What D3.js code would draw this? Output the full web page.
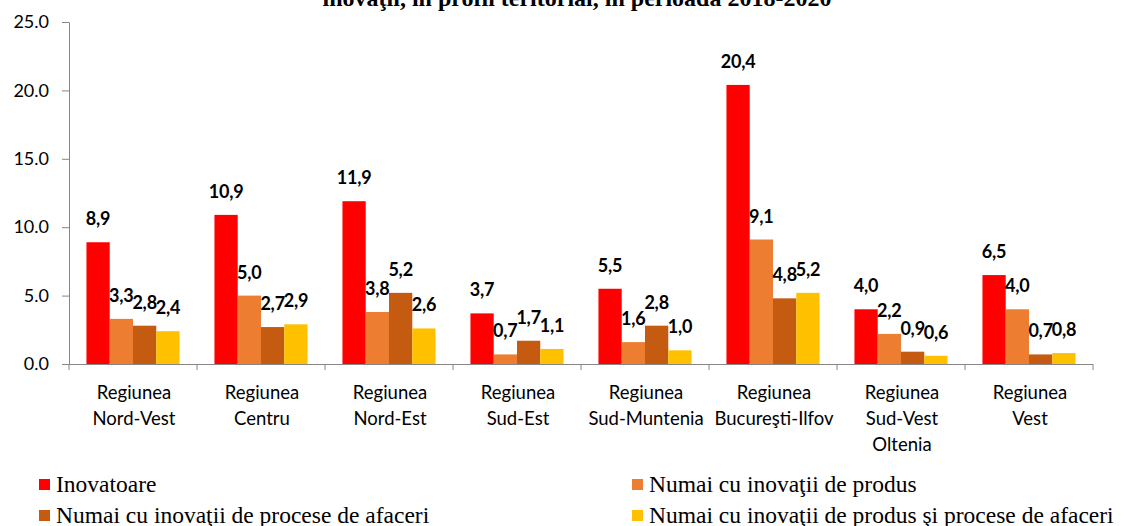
<!DOCTYPE html>
<html>
<head>
<meta charset="utf-8">
<script src="https://cdn.jsdelivr.net/npm/d3@7"></script>
<style>
  html, body { margin: 0; padding: 0; background: #fff; }
  svg { display: block; }
</style>
</head>
<body>
<svg id="chart" width="1125" height="526"></svg>
<script>
// ---- data ----
const titleText = "inovaţii, în profil teritorial, în perioada 2018-2020";
const categories = [
  ["Regiunea", "Nord-Vest"],
  ["Regiunea", "Centru"],
  ["Regiunea", "Nord-Est"],
  ["Regiunea", "Sud-Est"],
  ["Regiunea", "Sud-Muntenia"],
  ["Regiunea", "Bucureşti-Ilfov"],
  ["Regiunea", "Sud-Vest", "Oltenia"],
  ["Regiunea", "Vest"]
];
const seriesNames = [
  "Inovatoare",
  "Numai cu inovaţii de produs",
  "Numai cu inovaţii de procese de afaceri",
  "Numai cu inovaţii de produs şi procese de afaceri"
];
const inovatoare     = [8.9, 10.9, 11.9, 3.7, 5.5, 20.4, 4.0, 6.5];
const produs         = [3.3, 5.0, 3.8, 0.7, 1.6, 9.1, 2.2, 4.0];
const procese        = [2.8, 2.7, 5.2, 1.7, 2.8, 4.8, 0.9, 0.7];
const produsProcese  = [2.4, 2.9, 2.6, 1.1, 1.0, 5.2, 0.6, 0.8];
const yTicks = [0, 5, 10, 15, 20, 25];
const colors = ["#FF0000", "#ED7D31", "#C55A11", "#FFC000"];

const seriesValues = [inovatoare, produs, procese, produsProcese];

// ---- layout ----
const svg = d3.select("#chart");
const mLeft = 69, mRight = 1093, mTop = 22, mBottom = 364;
const numFont = "Lato, 'Open Sans', sans-serif";
const serif = "'Liberation Serif', 'DejaVu Serif', serif";

const catKeys = categories.map((c, i) => "c" + i);
const x = d3.scaleBand().domain(catKeys).range([mLeft, mRight]).paddingInner(0).paddingOuter(0);
const xs = d3.scaleBand().domain(d3.range(seriesNames.length)).range([0, x.bandwidth()])
  .paddingInner(0).paddingOuter(0.75);
const y = d3.scaleLinear().domain([0, 25]).range([mBottom, mTop]);

// title (only its lower line is visible in the frame)
svg.append("text")
  .attr("x", 577).attr("y", 6)
  .attr("text-anchor", "middle")
  .attr("font-family", serif)
  .attr("font-weight", "bold")
  .attr("font-size", 24)
  .attr("fill", "#000")
  .text(titleText);

// bars
const data = [];
seriesValues.forEach((vals, s) => vals.forEach((v, i) => data.push({s, i, v})));

svg.append("g").selectAll("rect").data(data).join("rect")
  .attr("x", d => x(catKeys[d.i]) + xs(d.s))
  .attr("y", d => y(d.v))
  .attr("width", xs.bandwidth())
  .attr("height", d => y(0) - y(d.v))
  .attr("fill", d => colors[d.s]);

// y axis
const yAxis = svg.append("g").attr("transform", `translate(${mLeft},0)`)
  .call(d3.axisLeft(y).tickValues(yTicks).tickFormat(d3.format(".1f")).tickSize(7).tickSizeOuter(0));
yAxis.select(".domain").attr("stroke", "#868686");
yAxis.selectAll(".tick line").attr("stroke", "#868686");
yAxis.selectAll(".tick text")
  .attr("x", -20)
  .attr("font-family", numFont)
  .attr("font-size", 18)
  .attr("fill", "#000");

// x axis
const xAxis = svg.append("g").attr("transform", `translate(0,${mBottom})`)
  .call(d3.axisBottom(x).tickSize(0).tickFormat(""));
xAxis.select(".domain").attr("stroke", "#868686").attr("d", `M${mLeft},0.5H${mRight}`);
const bounds = catKeys.map(k => x(k)).concat([mRight]);
xAxis.selectAll(".bound").data(bounds).join("line")
  .attr("class", "bound")
  .attr("x1", d => d).attr("x2", d => d)
  .attr("y1", 0).attr("y2", 6)
  .attr("stroke", "#868686");

// category labels
categories.forEach((lines, i) => {
  const t = svg.append("text")
    .attr("text-anchor", "middle")
    .attr("font-family", numFont)
    .attr("font-size", 18.5)
    .attr("fill", "#000");
  lines.forEach((ln, j) => {
    t.append("tspan")
      .attr("x", x(catKeys[i]) + x.bandwidth() / 2 + 1)
      .attr("y", 399 + j * 26)
      .text(ln);
  });
});

// value labels
const fmt = v => d3.format(".1f")(v).replace(".", ",");
svg.append("g").selectAll("text").data(data).join("text")
  .attr("x", d => x(catKeys[d.i]) + xs(d.s) + xs.bandwidth() / 2)
  .attr("y", d => y(d.v) - 17)
  .attr("text-anchor", "middle")
  .attr("font-family", numFont)
  .attr("font-weight", "bold")
  .attr("font-size", 18)
  .attr("letter-spacing", -0.2)
  .attr("fill", "#000")
  .text(d => fmt(d.v));

// legend
const legendPos = [[39, 479], [632, 479], [39, 510], [632, 510]];
seriesNames.forEach((name, s) => {
  const [lx, ly] = legendPos[s];
  svg.append("rect").attr("x", lx).attr("y", ly).attr("width", 11).attr("height", 11).attr("fill", colors[s]);
  svg.append("text")
    .attr("x", lx + 17).attr("y", ly + 12.5)
    .attr("font-family", serif)
    .attr("font-size", 23.5)
    .attr("fill", "#000")
    .text(name);
});
</script>
</body>
</html>
